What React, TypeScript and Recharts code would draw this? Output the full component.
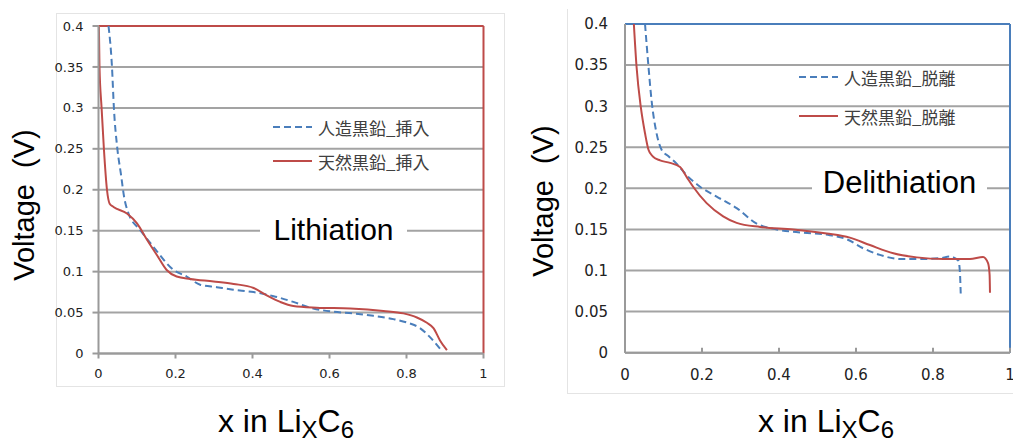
import React from 'react';
import { LineChart, Line, XAxis, YAxis, CartesianGrid, ReferenceLine, Legend } from 'recharts';

const xTicks = [0, 0.2, 0.4, 0.6, 0.8, 1];
const voltTicks = [0, 0.05, 0.1, 0.15, 0.2, 0.25, 0.3, 0.35, 0.4];

// Lithiation (挿入)
const lithArtificialX = [0.026, 0.035, 0.04, 0.049, 0.058, 0.067, 0.078, 0.108, 0.143, 0.195, 0.229, 0.264, 0.307, 0.35, 0.403, 0.455, 0.506, 0.558, 0.61, 0.662, 0.714, 0.766, 0.8, 0.835, 0.861, 0.887];
const lithArtificialV = [0.4, 0.35, 0.3, 0.25, 0.22, 0.19, 0.171, 0.151, 0.13, 0.102, 0.094, 0.084, 0.081, 0.078, 0.075, 0.07, 0.063, 0.055, 0.051, 0.049, 0.046, 0.042, 0.038, 0.031, 0.02, 0.006];
const lithNaturalX = [0.001, 0.0026, 0.008, 0.014, 0.022, 0.029, 0.039, 0.074, 0.1, 0.126, 0.152, 0.177, 0.203, 0.238, 0.299, 0.351, 0.403, 0.437, 0.472, 0.506, 0.567, 0.654, 0.74, 0.792, 0.827, 0.853, 0.87, 0.887, 0.905];
const lithNaturalV = [0.4, 0.35, 0.3, 0.25, 0.2, 0.183, 0.179, 0.171, 0.159, 0.139, 0.12, 0.102, 0.094, 0.091, 0.088, 0.085, 0.08, 0.071, 0.063, 0.058, 0.056, 0.055, 0.052, 0.049, 0.044, 0.0375, 0.031, 0.016, 0.004];

// Delithiation (脱離)
const delithArtificialX = [0.052, 0.061, 0.069, 0.082, 0.095, 0.113, 0.134, 0.16, 0.195, 0.238, 0.29, 0.342, 0.394, 0.463, 0.532, 0.576, 0.619, 0.662, 0.714, 0.766, 0.818, 0.844, 0.866, 0.87, 0.872];
const delithArtificialV = [0.4, 0.348, 0.307, 0.267, 0.247, 0.239, 0.23, 0.216, 0.202, 0.19, 0.176, 0.157, 0.15, 0.146, 0.143, 0.138, 0.127, 0.119, 0.114, 0.114, 0.115, 0.117, 0.112, 0.097, 0.072];
const delithNaturalX = [0.023, 0.03, 0.041, 0.052, 0.061, 0.072, 0.091, 0.117, 0.143, 0.16, 0.177, 0.212, 0.255, 0.29, 0.351, 0.437, 0.524, 0.584, 0.636, 0.697, 0.758, 0.827, 0.896, 0.93, 0.943, 0.947, 0.948];
const delithNaturalV = [0.4, 0.348, 0.299, 0.267, 0.247, 0.239, 0.234, 0.231, 0.226, 0.214, 0.202, 0.182, 0.166, 0.158, 0.153, 0.15, 0.145, 0.14, 0.131, 0.121, 0.116, 0.114, 0.114, 0.1165, 0.109, 0.095, 0.073];

const BLUE = '#4a7ebb';
const RED = '#be4b48';
const GRID = '#a3a3a3';
const AXIS = '#9a9a9a';
const SANS = '"Liberation Sans", Arial, sans-serif';
const TICK_FONT = '"DejaVu Sans", sans-serif';
const CJK = '"Noto Sans CJK JP", sans-serif';
const DASH = '7 4';

const toPoints = (xs: number[], vs: number[]) => xs.map((x, i) => ({ x, v: vs[i] }));

type LegendItem = { name: string; color: string; dash?: string };

const legendRows = (items: LegendItem[], rowH: number) => () => (
  <div>
    {items.map((it) => (
      <div key={it.name} style={{ display: 'flex', alignItems: 'center', height: rowH }}>
        <svg width={39} height={4} style={{ display: 'block' }}>
          <line x1={0} y1={2} x2={39} y2={2} stroke={it.color} strokeWidth={2} strokeDasharray={it.dash} />
        </svg>
        <span style={{ marginLeft: 6, fontFamily: CJK, fontSize: 17, color: '#404040', lineHeight: 1, whiteSpace: 'nowrap' }}>
          {it.name}
        </span>
      </div>
    ))}
  </div>
);

// x ticks of the right chart point inwards (up from the axis)
const InnerTick = (props: any) => {
  const { x, y, payload } = props;
  return (
    <g>
      <line x1={x} y1={y} x2={x} y2={y - 5} stroke={AXIS} strokeWidth={2} />
      <text x={x} y={y + 17} dy="0.71em" textAnchor="middle" fill="#222" fontSize={15} fontFamily={TICK_FONT}>
        {String(payload.value)}
      </text>
    </g>
  );
};

const VoltLabel = ({ x, y }: { x: number; y: number }) => (
  <div
    style={{
      position: 'absolute', left: x, top: y, transform: 'translate(-50%, -50%) rotate(-90deg)',
      whiteSpace: 'pre', fontFamily: SANS, fontSize: 29, lineHeight: 1, color: '#000',
    }}
  >
    {'Voltage  (V)'}
  </div>
);

const XLabel = ({ x }: { x: number }) => {
  const sub: React.CSSProperties = { fontSize: 24, position: 'relative', top: 6 };
  return (
    <div
      style={{
        position: 'absolute', left: x, top: 405, transform: 'translateX(-50%)', whiteSpace: 'nowrap',
        fontFamily: SANS, fontSize: 32, lineHeight: '32px', color: '#000',
      }}
    >
      x in Li<span style={sub}>X</span>C<span style={sub}>6</span>
    </div>
  );
};

const Note = ({ text, left, top, width, height, size }: { text: string; left: number; top: number; width: number; height: number; size: number }) => (
  <div
    style={{
      position: 'absolute', left, top, width, height, background: '#fff', display: 'flex',
      alignItems: 'center', justifyContent: 'center', fontFamily: SANS, fontSize: size, color: '#000',
    }}
  >
    {text}
  </div>
);

export default function App() {
  return (
    <div style={{ position: 'absolute', left: 0, top: 0, width: 1013, height: 442, background: '#fff', overflow: 'hidden' }}>
      {/* faint chart-area frames */}
      <div style={{ position: 'absolute', left: 56, top: 13, width: 447, height: 372, border: '1px solid #e4e4e4' }} />
      <div style={{ position: 'absolute', left: 567, top: 9, width: 460, height: 384, borderLeft: '1px solid #e4e4e4', borderBottom: '1px solid #e4e4e4' }} />

      <div style={{ position: 'absolute', left: 0, top: 0 }}>
        <LineChart width={500} height={442} margin={{ top: 26, right: 16.5, bottom: 0, left: 0 }}>
          <CartesianGrid horizontal vertical={false} stroke={GRID} strokeWidth={2} />
          <XAxis
            type="number" dataKey="x" domain={[0, 1]} ticks={xTicks} interval={0} height={88.5}
            axisLine={{ stroke: AXIS, strokeWidth: 2 }} tickLine={{ stroke: AXIS, strokeWidth: 2 }}
            tickSize={5} tickMargin={10} fontSize={13} fontFamily={TICK_FONT}
            tick={{ fill: '#222', fontSize: 13, fontFamily: TICK_FONT }}
          />
          <YAxis
            type="number" domain={[0, 0.4]} ticks={voltTicks} interval={0} width={98.5} allowDataOverflow
            axisLine={{ stroke: AXIS, strokeWidth: 2 }} tickLine={{ stroke: AXIS, strokeWidth: 2 }}
            tickSize={6} tickMargin={9} fontSize={13} fontFamily={TICK_FONT}
            tick={{ fill: '#222', fontSize: 13, fontFamily: TICK_FONT }}
          />
          <ReferenceLine y={0.4} stroke={RED} strokeWidth={2} />
          <ReferenceLine x={1} stroke={RED} strokeWidth={2} />
          <Line data={toPoints(lithArtificialX, lithArtificialV)} dataKey="v" name="人造黒鉛_挿入" type="monotone"
            stroke={BLUE} strokeWidth={2} strokeDasharray={DASH} dot={false} isAnimationActive={false} />
          <Line data={toPoints(lithNaturalX, lithNaturalV)} dataKey="v" name="天然黒鉛_挿入" type="monotone"
            stroke={RED} strokeWidth={2} dot={false} isAnimationActive={false} />
          <Legend
            layout="vertical" align="center" verticalAlign="middle"
            wrapperStyle={{ left: 273, top: 110, width: 'auto', height: 'auto' }}
            content={legendRows([
              { name: '人造黒鉛_挿入', color: BLUE, dash: DASH },
              { name: '天然黒鉛_挿入', color: RED },
            ], 34)}
          />
        </LineChart>
      </div>

      <div style={{ position: 'absolute', left: 510, top: 0 }}>
        <LineChart width={503} height={442} margin={{ top: 24, right: 3, bottom: 0, left: 0 }}>
          <CartesianGrid horizontal vertical={false} stroke={GRID} strokeWidth={2} />
          <XAxis
            type="number" dataKey="x" domain={[0, 1]} ticks={xTicks} interval={0} height={89.3}
            axisLine={{ stroke: AXIS, strokeWidth: 2 }} tickLine={false} tickSize={0} tickMargin={0}
            tick={InnerTick}
          />
          <YAxis
            type="number" domain={[0, 0.4]} ticks={voltTicks} interval={0} width={115} allowDataOverflow
            axisLine={{ stroke: AXIS, strokeWidth: 2 }} tickLine={false} tickSize={0} tickMargin={17}
            fontSize={15} fontFamily={TICK_FONT}
            tick={{ fill: '#222', fontSize: 15, fontFamily: TICK_FONT }}
          />
          <ReferenceLine y={0.4} stroke={BLUE} strokeWidth={2} />
          <ReferenceLine x={1} stroke={BLUE} strokeWidth={2} />
          <Line data={toPoints(delithArtificialX, delithArtificialV)} dataKey="v" name="人造黒鉛_脱離" type="monotone"
            stroke={BLUE} strokeWidth={2} strokeDasharray={DASH} dot={false} isAnimationActive={false} />
          <Line data={toPoints(delithNaturalX, delithNaturalV)} dataKey="v" name="天然黒鉛_脱離" type="monotone"
            stroke={RED} strokeWidth={2} dot={false} isAnimationActive={false} />
          <Legend
            layout="vertical" align="center" verticalAlign="middle"
            wrapperStyle={{ left: 289, top: 57.5, width: 'auto', height: 'auto' }}
            content={legendRows([
              { name: '人造黒鉛_脱離', color: BLUE, dash: DASH },
              { name: '天然黒鉛_脱離', color: RED },
            ], 39)}
          />
        </LineChart>
      </div>

      <Note text="Lithiation" left={260} top={213} width={147} height={34} size={30} />
      <Note text="Delithiation" left={812} top={165} width={175} height={36} size={31} />

      <VoltLabel x={24} y={205} />
      <VoltLabel x={543} y={201} />
      <XLabel x={286} />
      <XLabel x={826} />
    </div>
  );
}
